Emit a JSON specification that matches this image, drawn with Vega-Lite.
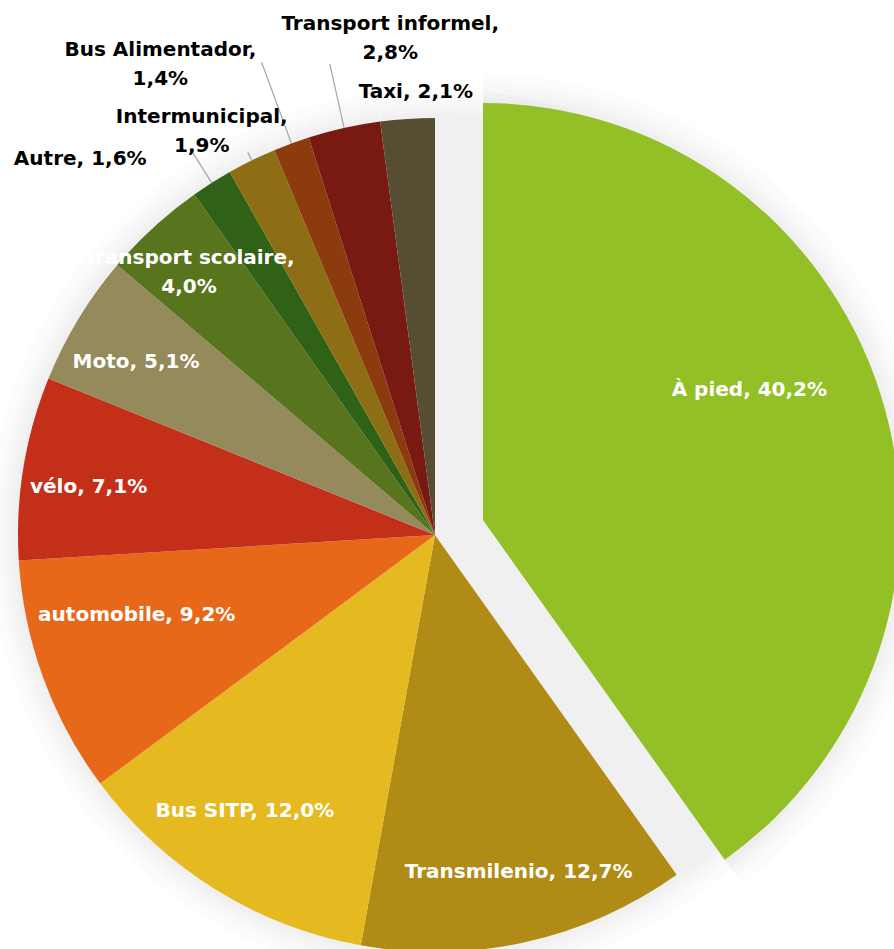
{
  "$schema": "https://vega.github.io/schema/vega-lite/v6.json",
  "width": 870,
  "height": 828,
  "autosize": {"type": "none"},
  "padding": {"left": 0, "top": 121, "right": 24, "bottom": 0},
  "background": "white",
  "config": {
    "view": {"stroke": null},
    "text": {"font": "DejaVu Sans", "fontWeight": "bold", "fontSize": 20, "lineBreak": "\n", "lineHeight": 29}
  },
  "data": {
    "values": [
      {"order": 1, "mode": "À pied", "value": 40.2, "label": "À pied, 40,2%"},
      {"order": 2, "mode": "Transmilenio", "value": 12.7, "label": "Transmilenio, 12,7%"},
      {"order": 3, "mode": "Bus SITP", "value": 12.0, "label": "Bus SITP, 12,0%"},
      {"order": 4, "mode": "automobile", "value": 9.2, "label": "automobile, 9,2%"},
      {"order": 5, "mode": "vélo", "value": 7.1, "label": "vélo, 7,1%"},
      {"order": 6, "mode": "Moto", "value": 5.1, "label": "Moto, 5,1%"},
      {"order": 7, "mode": "Transport scolaire", "value": 4.0, "label": "Transport scolaire,\n4,0%"},
      {"order": 8, "mode": "Autre", "value": 1.6, "label": "Autre, 1,6%"},
      {"order": 9, "mode": "Intermunicipal", "value": 1.9, "label": "Intermunicipal,\n1,9%"},
      {"order": 10, "mode": "Bus Alimentador", "value": 1.4, "label": "Bus Alimentador,\n1,4%"},
      {"order": 11, "mode": "Transport informel", "value": 2.8, "label": "Transport informel,\n2,8%"},
      {"order": 12, "mode": "Taxi", "value": 2.1, "label": "Taxi, 2,1%"}
    ]
  },
  "encoding": {
    "theta": {"field": "value", "type": "quantitative", "stack": true},
    "order": {"field": "order", "type": "quantitative"}
  },
  "layer": [
    {"mark": {"type": "arc", "radius": 446, "fill": "#000", "opacity": 0.011}},
    {"mark": {"type": "arc", "radius": 438, "fill": "#000", "opacity": 0.011}},
    {"mark": {"type": "arc", "radius": 432, "fill": "#000", "opacity": 0.011}},
    {"mark": {"type": "arc", "radius": 427, "fill": "#000", "opacity": 0.011}},
    {"mark": {"type": "arc", "radius": 422, "fill": "#000", "opacity": 0.011}},
    {
      "mark": {"type": "arc", "radius": 446, "fill": "#000", "xOffset": 48, "yOffset": -15},
      "encoding": {"opacity": {"condition": {"test": "datum.mode === 'À pied'", "value": 0.013}, "value": 0}}
    },
    {
      "mark": {"type": "arc", "radius": 438, "fill": "#000", "xOffset": 48, "yOffset": -15},
      "encoding": {"opacity": {"condition": {"test": "datum.mode === 'À pied'", "value": 0.013}, "value": 0}}
    },
    {
      "mark": {"type": "arc", "radius": 432, "fill": "#000", "xOffset": 48, "yOffset": -15},
      "encoding": {"opacity": {"condition": {"test": "datum.mode === 'À pied'", "value": 0.013}, "value": 0}}
    },
    {
      "mark": {"type": "arc", "radius": 427, "fill": "#000", "xOffset": 48, "yOffset": -15},
      "encoding": {"opacity": {"condition": {"test": "datum.mode === 'À pied'", "value": 0.013}, "value": 0}}
    },
    {
      "mark": {"type": "arc", "radius": 422, "fill": "#000", "xOffset": 48, "yOffset": -15},
      "encoding": {"opacity": {"condition": {"test": "datum.mode === 'À pied'", "value": 0.013}, "value": 0}}
    },
    {
      "mark": {"type": "arc", "radius": 417},
      "encoding": {
        "color": {"field": "mode", "type": "nominal", "legend": null,
          "scale": {
            "domain": ["À pied", "Transmilenio", "Bus SITP", "automobile", "vélo", "Moto", "Transport scolaire", "Autre", "Intermunicipal", "Bus Alimentador", "Transport informel", "Taxi"],
            "range": ["#92C026", "#B08C16", "#E5B920", "#E8681A", "#C42F1A", "#948A5B", "#58741C", "#2F6116", "#8E6E14", "#8C3B0E", "#781A12", "#564D33"]
          }},
        "fillOpacity": {"condition": {"test": "datum.mode === 'À pied'", "value": 0}, "value": 1}
      }
    },
    {
      "mark": {"type": "arc", "radius": 417, "xOffset": 48, "yOffset": -15},
      "encoding": {
        "color": {"field": "mode", "type": "nominal", "legend": null},
        "fillOpacity": {"condition": {"test": "datum.mode === 'À pied'", "value": 1}, "value": 0}
      }
    },
    {
      "transform": [{"stack": "value", "groupby": [], "sort": [{"field": "order", "order": "ascending"}], "as": ["v0", "v1"]}],
      "mark": {"type": "arc", "radius": 418, "radius2": 455, "thetaOffset": 0.05022, "theta2Offset": -0.05022, "fill": null, "stroke": "#A6A6A6", "strokeWidth": 1.2},
      "encoding": {
        "theta": {"field": "v0", "type": "quantitative", "stack": null},
        "theta2": {"field": "v1"},
        "strokeOpacity": {"condition": {"test": "datum.mode === 'Autre'", "value": 1}, "value": 0}
      }
    },
    {
      "transform": [{"stack": "value", "groupby": [], "sort": [{"field": "order", "order": "ascending"}], "as": ["v0", "v1"]}],
      "mark": {"type": "arc", "radius": 418, "radius2": 426, "thetaOffset": 0.05963, "theta2Offset": -0.05963, "fill": null, "stroke": "#A6A6A6", "strokeWidth": 1.2},
      "encoding": {
        "theta": {"field": "v0", "type": "quantitative", "stack": null},
        "theta2": {"field": "v1"},
        "strokeOpacity": {"condition": {"test": "datum.mode === 'Intermunicipal'", "value": 1}, "value": 0}
      }
    },
    {
      "transform": [{"stack": "value", "groupby": [], "sort": [{"field": "order", "order": "ascending"}], "as": ["v0", "v1"]}],
      "mark": {"type": "arc", "radius": 418, "radius2": 503, "thetaOffset": 0.04394, "theta2Offset": -0.04394, "fill": null, "stroke": "#A6A6A6", "strokeWidth": 1.2},
      "encoding": {
        "theta": {"field": "v0", "type": "quantitative", "stack": null},
        "theta2": {"field": "v1"},
        "strokeOpacity": {"condition": {"test": "datum.mode === 'Bus Alimentador'", "value": 1}, "value": 0}
      }
    },
    {
      "transform": [{"stack": "value", "groupby": [], "sort": [{"field": "order", "order": "ascending"}], "as": ["v0", "v1"]}],
      "mark": {"type": "arc", "radius": 418, "radius2": 482, "thetaOffset": 0.08788, "theta2Offset": -0.08788, "fill": null, "stroke": "#A6A6A6", "strokeWidth": 1.2},
      "encoding": {
        "theta": {"field": "v0", "type": "quantitative", "stack": null},
        "theta2": {"field": "v1"},
        "strokeOpacity": {"condition": {"test": "datum.mode === 'Transport informel'", "value": 1}, "value": 0}
      }
    },
    {
      "mark": {"type": "text", "radius": 330, "dx": 0, "dy": -45, "fill": "white"},
      "encoding": {"text": {"condition": {"test": "datum.mode === 'À pied'", "field": "label"}, "value": ""}}
    },
    {
      "mark": {"type": "text", "radius": 347, "dx": 8, "dy": -2, "fill": "white"},
      "encoding": {"text": {"condition": {"test": "datum.mode === 'Transmilenio'", "field": "label"}, "value": ""}}
    },
    {
      "mark": {"type": "text", "radius": 336, "dx": -13, "dy": -9, "fill": "white"},
      "encoding": {"text": {"condition": {"test": "datum.mode === 'Bus SITP'", "field": "label"}, "value": ""}}
    },
    {
      "mark": {"type": "text", "radius": 309, "dx": -8, "dy": -26, "fill": "white"},
      "encoding": {"text": {"condition": {"test": "datum.mode === 'automobile'", "field": "label"}, "value": ""}}
    },
    {
      "mark": {"type": "text", "radius": 349, "dx": -2, "dy": 8, "fill": "white"},
      "encoding": {"text": {"condition": {"test": "datum.mode === 'vélo'", "field": "label"}, "value": ""}}
    },
    {
      "mark": {"type": "text", "radius": 346, "dx": -3, "dy": 6, "fill": "white"},
      "encoding": {"text": {"condition": {"test": "datum.mode === 'Moto'", "field": "label"}, "value": ""}}
    },
    {
      "mark": {"type": "text", "radius": 360, "dx": -3, "dy": -11.5, "fill": "white"},
      "encoding": {"text": {"condition": {"test": "datum.mode === 'Transport scolaire'", "field": "label"}, "value": ""}}
    },
    {
      "mark": {"type": "text", "radius": 517, "dx": -78, "dy": 61, "fill": "black"},
      "encoding": {"text": {"condition": {"test": "datum.mode === 'Autre'", "field": "label"}, "value": ""}}
    },
    {
      "mark": {"type": "text", "radius": 467, "dx": -28, "dy": 1, "fill": "black"},
      "encoding": {"text": {"condition": {"test": "datum.mode === 'Intermunicipal'", "field": "label"}, "value": ""}}
    },
    {
      "mark": {"type": "text", "radius": 545, "dx": -87, "dy": 27, "fill": "black"},
      "encoding": {"text": {"condition": {"test": "datum.mode === 'Bus Alimentador'", "field": "label"}, "value": ""}}
    },
    {
      "mark": {"type": "text", "radius": 499, "dx": 64, "dy": -24, "fill": "black"},
      "encoding": {"text": {"condition": {"test": "datum.mode === 'Transport informel'", "field": "label"}, "value": ""}}
    },
    {
      "mark": {"type": "text", "radius": 443, "dx": 10, "dy": -1, "fill": "black"},
      "encoding": {"text": {"condition": {"test": "datum.mode === 'Taxi'", "field": "label"}, "value": ""}}
    }
  ]
}
